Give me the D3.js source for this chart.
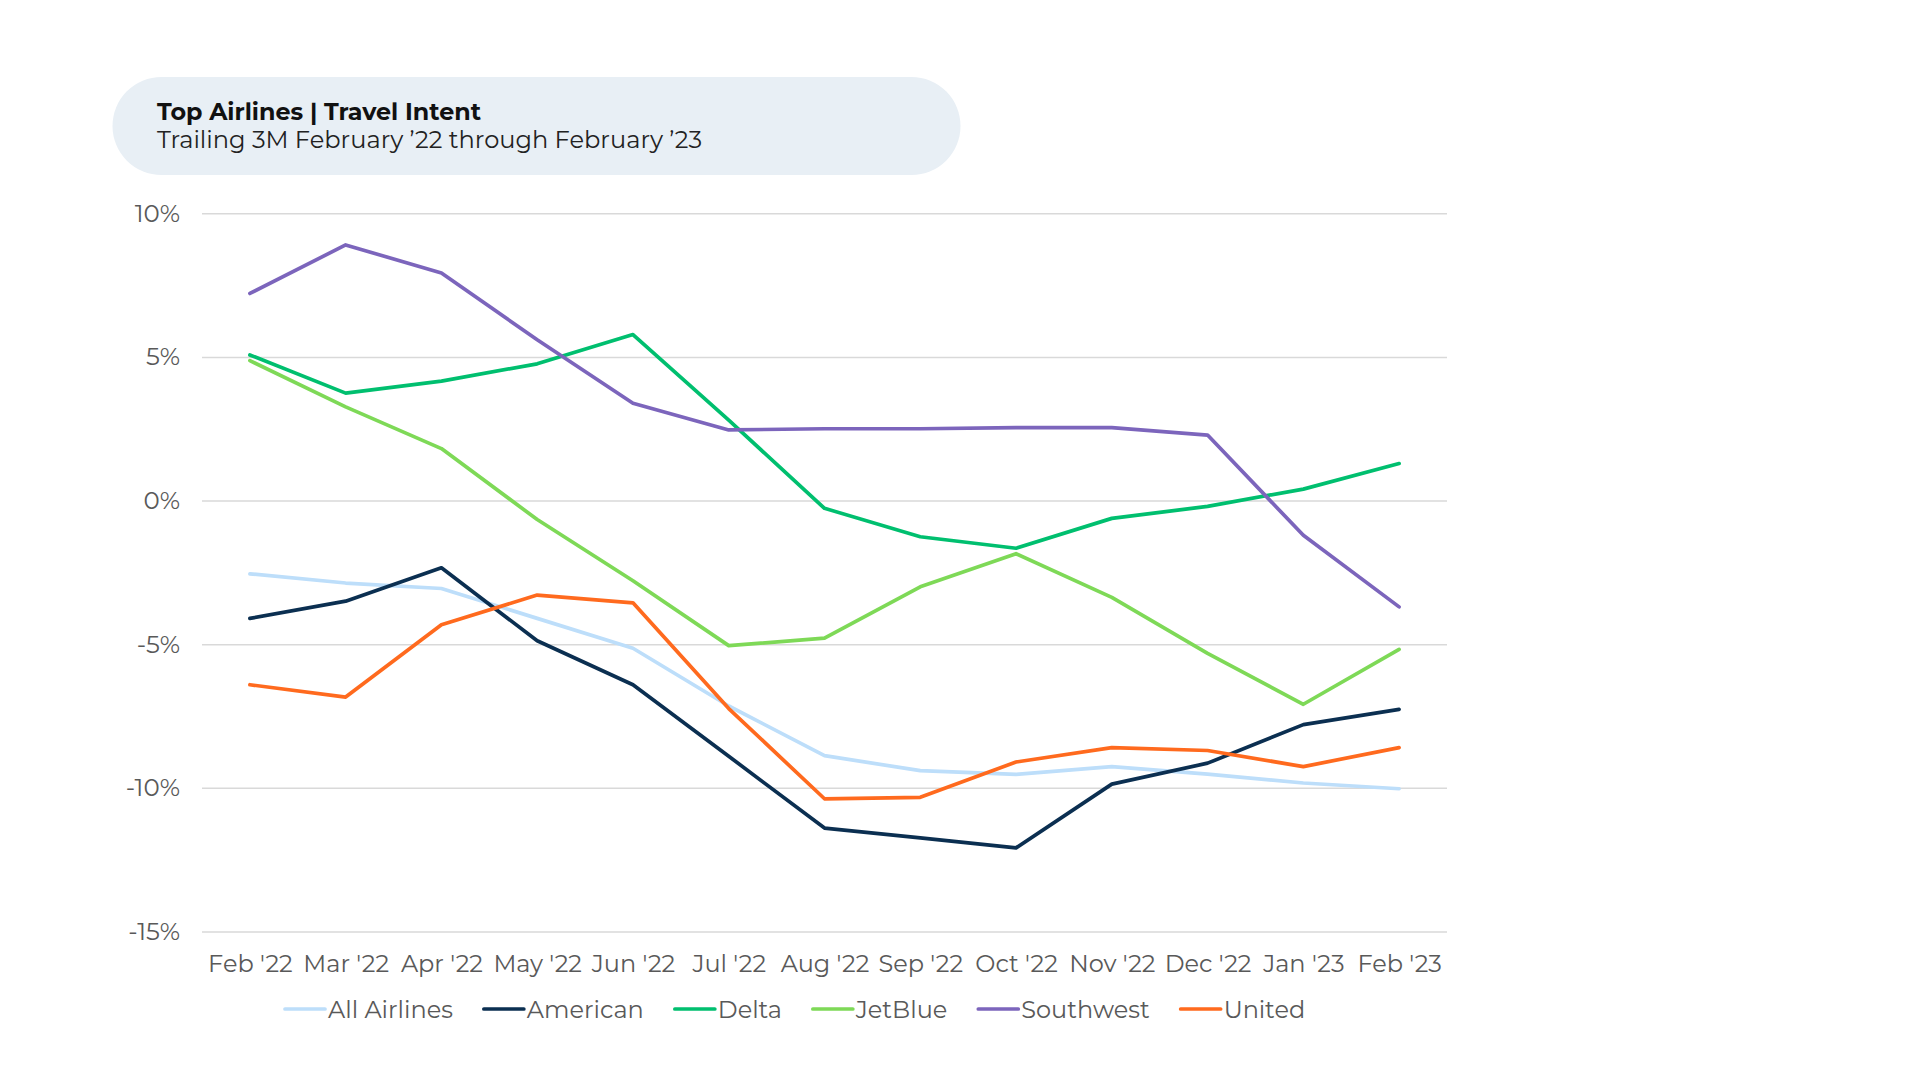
<!DOCTYPE html>
<html>
<head>
<meta charset="utf-8">
<script src="https://cdn.jsdelivr.net/npm/d3@7/dist/d3.min.js"></script>
<style>
  html, body { margin: 0; padding: 0; background: #ffffff; }
  svg { display: block; }
  text { font-family: Montserrat, "DejaVu Sans", sans-serif; }
</style>
</head>
<body>
<svg id="chart" width="1920" height="1080"></svg>
<script>
// ---- data ----
const months = ["Feb '22","Mar '22","Apr '22","May '22","Jun '22","Jul '22","Aug '22","Sep '22","Oct '22","Nov '22","Dec '22","Jan '23","Feb '23"];
const seriesNames = ["All Airlines","American","Delta","JetBlue","Southwest","United"];
const allAirlines = [-2.55,-2.87,-3.06,-4.10,-5.14,-7.15,-8.88,-9.40,-9.53,-9.26,-9.52,-9.83,-10.03];
const american    = [-4.10,-3.50,-2.34,-4.88,-6.41,-8.90,-11.40,-11.74,-12.09,-9.87,-9.14,-7.80,-7.27];
const delta       = [5.07,3.74,4.16,4.76,5.78,2.80,-0.27,-1.26,-1.66,-0.62,-0.20,0.40,1.29];
const jetBlue     = [4.87,3.26,1.81,-0.66,-2.79,-5.05,-4.79,-3.00,-1.85,-3.37,-5.32,-7.09,-5.18];
const southwest   = [7.21,8.90,7.92,5.60,3.39,2.46,2.50,2.50,2.54,2.54,2.28,-1.21,-3.70];
const united      = [-6.41,-6.84,-4.32,-3.29,-3.56,-7.24,-10.38,-10.33,-9.10,-8.60,-8.70,-9.26,-8.60];
const yTicks = [10,5,0,-5,-10,-15];
const titleText = "Top Airlines | Travel Intent";
const subtitleText = "Trailing 3M February \u201922 through February \u201923";

const seriesValues = [allAirlines, american, delta, jetBlue, southwest, united];
const colors = ["#BDDEFA","#0B2F51","#00BF6F","#7ED957","#7C65BC","#FF6A1E"];

(function () {
// ---- layout ----
const svg = d3.select("#chart");
const plotLeft = 202, plotRight = 1447, plotTop = 213.3, plotBottom = 931.5;
const fontFam = "Montserrat, 'DejaVu Sans', sans-serif";

const x = d3.scalePoint().domain(months).range([plotLeft, plotRight]).padding(0.5);
const y = d3.scaleLinear().domain([-15, 10]).range([plotBottom, plotTop]);

// title pill
svg.append("rect")
  .attr("x", 112.5).attr("y", 77).attr("width", 848).attr("height", 98)
  .attr("rx", 49).attr("ry", 49).attr("fill", "#E8EFF5");
svg.append("text").attr("x", 157).attr("y", 119.5)
  .attr("font-size", 23.8).attr("font-weight", "bold").attr("fill", "#111")
  .text(titleText);
svg.append("text").attr("x", 157).attr("y", 147.5)
  .attr("font-size", 24.1).attr("fill", "#222")
  .text(subtitleText);

// y axis (gridlines + labels)
const yAxis = d3.axisLeft(y).tickValues(yTicks).tickSize(-(plotRight - plotLeft))
  .tickPadding(22).tickFormat(d => d + "%");
const gy = svg.append("g").attr("transform", `translate(${plotLeft},0)`).call(yAxis);
gy.select(".domain").remove();
gy.selectAll(".tick line").attr("stroke", "#D9D9D9").attr("stroke-width", 1.5);
gy.selectAll(".tick text").attr("font-size", 24.5).attr("fill", "#595959")
  .attr("font-family", fontFam);

// x axis labels
const xAxis = d3.axisBottom(x).tickSize(0).tickPadding(23);
const gx = svg.append("g").attr("transform", `translate(0,${plotBottom})`).call(xAxis);
gx.select(".domain").remove();
gx.selectAll(".tick text").attr("font-size", 24).attr("fill", "#595959")
  .attr("font-family", fontFam);

// lines
const line = d3.line().x((d, i) => x(months[i])).y(d => y(d));
seriesValues.forEach((vals, k) => {
  svg.append("path").datum(vals)
    .attr("fill", "none").attr("stroke", colors[k]).attr("stroke-width", 3.7)
    .attr("stroke-linejoin", "round").attr("stroke-linecap", "round")
    .attr("d", line);
});

// legend
const legend = svg.append("g").attr("transform", "translate(285,1009)");
let lx = 0;
seriesNames.forEach((name, k) => {
  const g = legend.append("g").attr("transform", `translate(${lx},0)`);
  g.append("line").attr("x1", 0).attr("x2", 40).attr("y1", 0).attr("y2", 0)
    .attr("stroke", colors[k]).attr("stroke-width", 3.7).attr("stroke-linecap", "round");
  const t = g.append("text").attr("x", 43).attr("y", 8.5)
    .attr("font-size", 24).attr("fill", "#595959").text(name);
  lx += 43 + t.node().getComputedTextLength() + 31;
});
})();
</script>
</body>
</html>
